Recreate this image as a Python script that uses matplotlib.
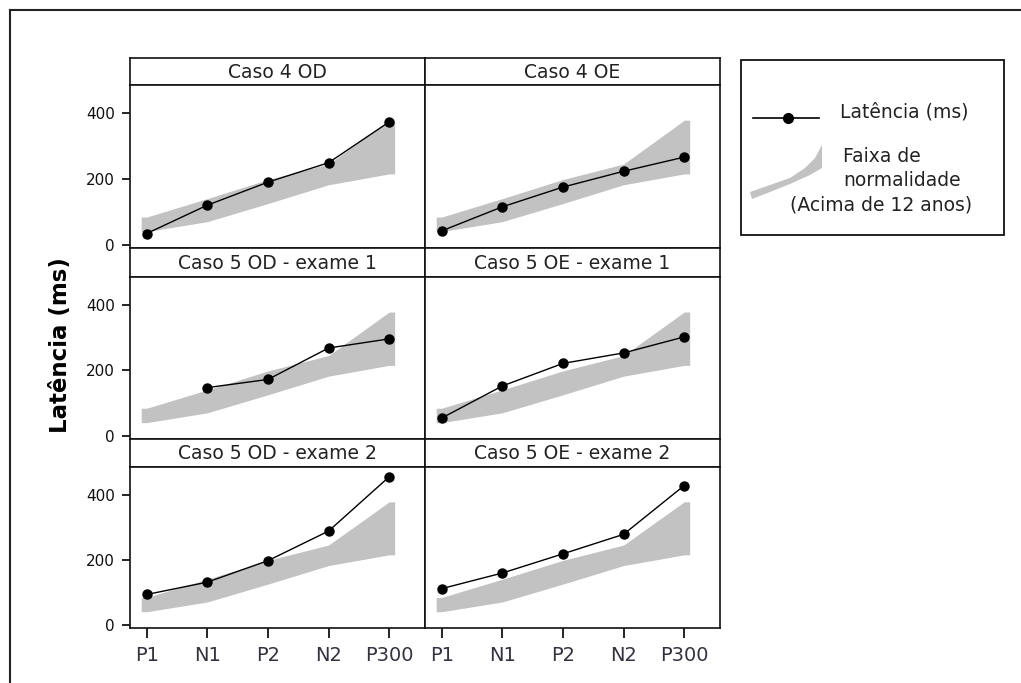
import numpy as np
import matplotlib
matplotlib.use('Agg')
import matplotlib.pyplot as plt
from matplotlib.patches import Polygon, Rectangle
from matplotlib.lines import Line2D

# ---------------- data ----------------
categories = ['P1', 'N1', 'P2', 'N2', 'P300']
band_lower = [40, 70, 125, 182, 215]     # lower limit of normal range (> 12 years)
band_upper = [84, 140, 198, 245, 378]    # upper limit of normal range

panel_titles = ['Caso 4 OD', 'Caso 4 OE',
                'Caso 5 OD - exame 1', 'Caso 5 OE - exame 1',
                'Caso 5 OD - exame 2', 'Caso 5 OE - exame 2']
caso4_od = [34, 120, 190, 249, 373]
caso4_oe = [42, 115, 175, 223, 266]
caso5_od_ex1 = [np.nan, 147, 172, 268, 296]
caso5_oe_ex1 = [54, 152, 221, 253, 302]
caso5_od_ex2 = [93, 131, 197, 288, 455]
caso5_oe_ex2 = [111, 159, 218, 278, 428]
series = [caso4_od, caso4_oe, caso5_od_ex1, caso5_oe_ex1, caso5_od_ex2, caso5_oe_ex2]
yticks = [0, 200, 400]

legend_line_label = 'Latência (ms)'
legend_band_label = ['Faixa de', 'normalidade', '(Acima de 12 anos)']
ylabel = 'Latência (ms)'

# ---------------- layout helpers ----------------
W, H = 1021, 683
fig = plt.figure(figsize=(W / 100, H / 100), dpi=100)
fig.patch.set_facecolor('white')


def fx(x):
    return x / W


def fy(y):
    return 1 - y / H


def rect(l, t, r, b):
    return [fx(l), fy(b), (r - l) / W, (b - t) / H]


# outer frame (top and left lines)
fig.add_artist(Line2D([fx(10), 1.0], [fy(10), fy(10)], color='#222222', lw=1.5,
                      transform=fig.transFigure))
fig.add_artist(Line2D([fx(10), fx(10)], [fy(10), 0.0], color='#222222', lw=1.5,
                      transform=fig.transFigure))

cols = [(130, 425), (425, 720)]
rows = [(58, 85, 248), (248, 277, 439), (439, 467, 628)]  # strip top, panel top, panel bottom

xpos = np.arange(1, len(categories) + 1)
ext = 0.09
band_x = np.concatenate([[xpos[0] - ext], xpos, [xpos[-1] + ext]])
band_lo = np.concatenate([[band_lower[0]], band_lower, [band_lower[-1]]])
band_hi = np.concatenate([[band_upper[0]], band_upper, [band_upper[-1]]])

text_color = '#222222'
tick_color = '#333340'
band_color = '#c2c2c2'

for i, (title, vals) in enumerate(zip(panel_titles, series)):
    r, c = divmod(i, 2)
    st, pt, pb = rows[r]
    l, rr = cols[c]
    # strip
    sax = fig.add_axes(rect(l, st, rr, pt))
    sax.set_xticks([]); sax.set_yticks([])
    sax.set_facecolor('white')
    for s in sax.spines.values():
        s.set_linewidth(1.2); s.set_color('#111111')
    sax.text(0.5, 0.47, title, ha='center', va='center', fontsize=13.5,
             color=text_color, family='DejaVu Sans', transform=sax.transAxes)
    # panel
    ax = fig.add_axes(rect(l, pt, rr, pb))
    ax.set_facecolor('white')
    for s in ax.spines.values():
        s.set_linewidth(1.2); s.set_color('#111111')
    ax.fill_between(band_x, band_lo, band_hi, color=band_color, lw=0, zorder=1)
    ax.plot(xpos, vals, color='black', lw=1.0, marker='o', ms=6.5,
            markerfacecolor='black', markeredgecolor='black', zorder=3)
    ax.set_xlim(0.725, 5.59)
    ax.set_ylim(-10, 485)
    ax.set_xticks(xpos)
    ax.set_yticks(yticks)
    if c == 0:
        ax.set_yticklabels([str(t) for t in yticks], fontsize=11, color='#111111')
        ax.tick_params(axis='y', direction='out', length=6, width=1.2, pad=5)
    else:
        ax.tick_params(axis='y', length=0, labelleft=False)
    if r == 2:
        ax.set_xticklabels(categories, fontsize=14, color=tick_color)
        ax.tick_params(axis='x', direction='out', length=7, width=1.2, pad=6)
    else:
        ax.tick_params(axis='x', length=0, labelbottom=False)

# y label
fig.text(fx(61), fy(345), ylabel, rotation=90, ha='center', va='center',
         fontsize=16.5, fontweight='bold', color='black', family='DejaVu Sans')

# legend box
fig.add_artist(Rectangle((fx(741), fy(235)), (1004 - 741) / W, (235 - 60) / H,
                         transform=fig.transFigure, fill=False,
                         edgecolor='#111111', lw=1.3))
fig.add_artist(Line2D([fx(753), fx(819)], [fy(118), fy(118)], color='black', lw=1.2,
                      transform=fig.transFigure))
fig.add_artist(Line2D([fx(788)], [fy(118)], color='black', marker='o', ms=7,
                      transform=fig.transFigure))
fig.text(fx(840), fy(112), legend_line_label, ha='left', va='center', fontsize=13.5,
         color=text_color, family='DejaVu Sans')
wedge = [(750, 192), (770, 185), (790, 178), (805, 168), (815, 158), (822, 145),
         (822, 168), (810, 175), (790, 184), (770, 192), (752, 199)]
fig.add_artist(Polygon([(fx(x), fy(y)) for x, y in wedge], closed=True,
                       transform=fig.transFigure, facecolor=band_color, edgecolor='none'))
fig.text(fx(843), fy(157), legend_band_label[0], ha='left', va='center', fontsize=13.5,
         color=text_color, family='DejaVu Sans')
fig.text(fx(843), fy(181), legend_band_label[1], ha='left', va='center', fontsize=13.5,
         color=text_color, family='DejaVu Sans')
fig.text(fx(790), fy(205), legend_band_label[2], ha='left', va='center', fontsize=13.5,
         color=text_color, family='DejaVu Sans')

fig.savefig('out.png', dpi=100, facecolor='white')
